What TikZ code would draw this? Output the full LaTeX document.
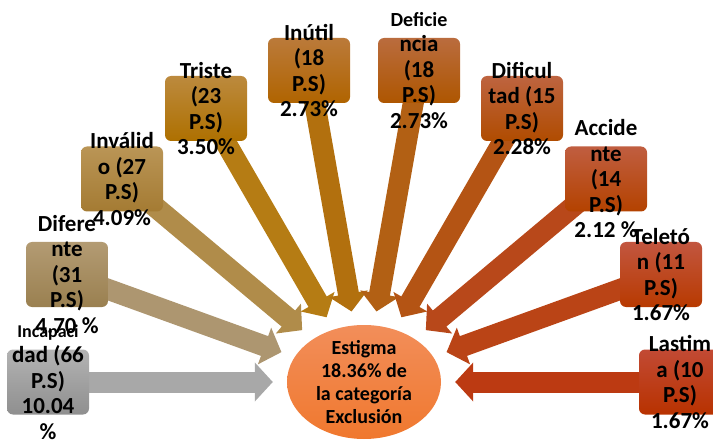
\documentclass[tikz,border=0pt]{standalone}
\usepackage{fontspec}
\setmainfont{Carlito}
\usetikzlibrary{arrows.meta,shapes.geometric,backgrounds}

\definecolor{incA}{HTML}{B3B3B3}\definecolor{incB}{HTML}{8F8F8F}\definecolor{incF}{HTML}{A8A8A8}
\definecolor{difA}{HTML}{B39B73}\definecolor{difB}{HTML}{9A8050}\definecolor{difF}{HTML}{AD9670}
\definecolor{invA}{HTML}{BA9556}\definecolor{invB}{HTML}{A47B33}\definecolor{invF}{HTML}{B08C4A}
\definecolor{triA}{HTML}{BC8A3E}\definecolor{triB}{HTML}{AE7000}\definecolor{triF}{HTML}{B57C14}
\definecolor{inuA}{HTML}{BB7A3A}\definecolor{inuB}{HTML}{B06400}\definecolor{inuF}{HTML}{B2700E}
\definecolor{defA}{HTML}{BA6C3E}\definecolor{defB}{HTML}{AE5600}\definecolor{defF}{HTML}{B26014}
\definecolor{dfcA}{HTML}{BE6440}\definecolor{dfcB}{HTML}{B04C00}\definecolor{dfcF}{HTML}{B45414}
\definecolor{accA}{HTML}{C05E40}\definecolor{accB}{HTML}{B44200}\definecolor{accF}{HTML}{B8481A}
\definecolor{telA}{HTML}{C25640}\definecolor{telB}{HTML}{B83A00}\definecolor{telF}{HTML}{BA4416}
\definecolor{lasA}{HTML}{C24A34}\definecolor{lasB}{HTML}{B83200}\definecolor{lasF}{HTML}{BC3A12}
\definecolor{estA}{HTML}{F28E5A}\definecolor{estB}{HTML}{F0782E}

\begin{document}
\begin{tikzpicture}[x=1pt, y=-1pt,
    every node/.append style={font=\fontsize{23}{25.5}\selectfont\bfseries},
    box/.style={rectangle, rounded corners=6pt, minimum width=82pt, minimum height=65pt, inner sep=0pt},
    word/.style={align=center, inner sep=0pt, text=black},
    flecha/.style={line width=21pt, shorten >=14pt, -{Triangle[length=18pt, width=38pt]}}]
  \useasboundingbox (0,0) rectangle (713,441);
  % centre
  \node (est) [ellipse, minimum width=154pt, minimum height=114pt, inner sep=0pt,
    top color=estA, bottom color=estB] at (364,382) {};
  \node [word, font=\fontsize{20}{23}\selectfont\bfseries] at (est) {Estigma\\18.36\% de\\la categoría\\Exclusión};
  % boxes
  \node (inc) [box, top color=incA, bottom color=incB] at (48,382) {};
  \node (dif) [box, top color=difA, bottom color=difB] at (67,274.5) {};
  \node (inv) [box, top color=invA, bottom color=invB] at (122,179) {};
  \node (tri) [box, top color=triA, bottom color=triB] at (206,108.5) {};
  \node (inu) [box, top color=inuA, bottom color=inuB] at (309,70.5) {};
  \node (def) [box, top color=defA, bottom color=defB] at (419,70.5) {};
  \node (dfc) [box, top color=dfcA, bottom color=dfcB] at (522,108.5) {};
  \node (acc) [box, top color=accA, bottom color=accB] at (606,179) {};
  \node (tel) [box, top color=telA, bottom color=telB] at (661,274.5) {};
  \node (las) [box, top color=lasA, bottom color=lasB] at (680,382) {};
  % arrows behind
  \begin{scope}[on background layer]
    \draw[flecha, incF] (inc.center) -- (est);
    \draw[flecha, difF] (dif.center) -- (est);
    \draw[flecha, invF] (inv.center) -- (est);
    \draw[flecha, triF] (tri.center) -- (est);
    \draw[flecha, inuF] (inu.center) -- (est);
    \draw[flecha, defF] (def.center) -- (est);
    \draw[flecha, dfcF] (dfc.center) -- (est);
    \draw[flecha, accF] (acc.center) -- (est);
    \draw[flecha, telF] (tel.center) -- (est);
    \draw[flecha, lasF] (las.center) -- (est);
  \end{scope}
  % texts
  \node [word] at (inc) {{\fontsize{18}{22}\selectfont Incapaci}\\dad (66\\P.S)\\10.04\\\%};
  \node [word] at (dif) {Difere\\nte\\(31\\P.S)\\4.70 \%};
  \node [word] at (inv) {Inválid\\o (27\\P.S)\\4.09\%};
  \node [word] at (tri) {Triste\\(23\\P.S)\\3.50\%};
  \node [word] at (inu) {Inútil\\(18\\P.S)\\2.73\%};
  \node [word] at (def) {{\fontsize{20}{24}\selectfont Deficie}\\ncia\\(18\\P.S)\\2.73\%};
  \node [word] at (dfc) {Dificul\\tad (15\\P.S)\\2.28\%};
  \node [word] at (acc) {Accide\\nte\\(14\\P.S)\\2.12 \%};
  \node [word] at (tel) {Teletó\\n (11\\P.S)\\1.67\%};
  \node [word] at (las) {Lastim\\a (10\\P.S)\\1.67\%};
\end{tikzpicture}
\end{document}
